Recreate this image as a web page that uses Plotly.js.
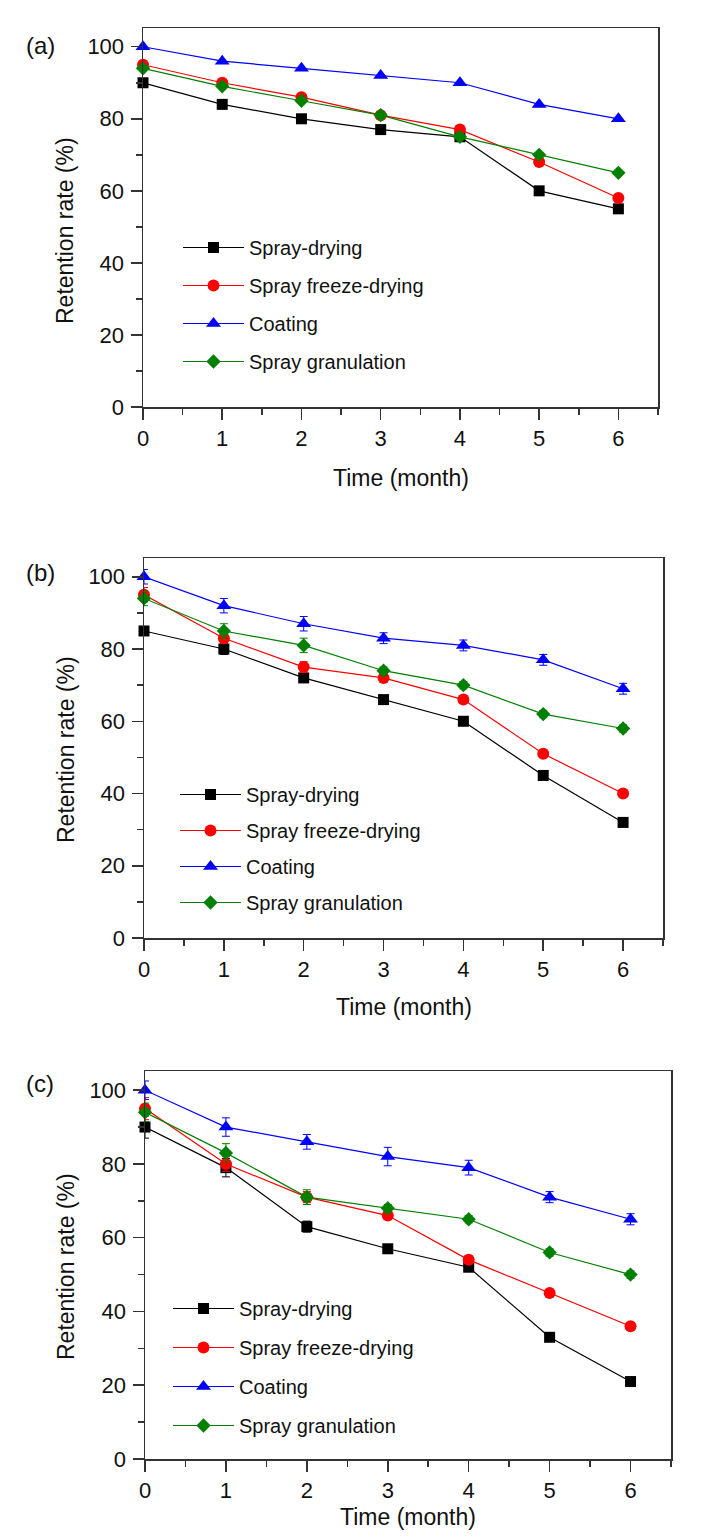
<!DOCTYPE html>
<html>
<head>
<meta charset="utf-8">
<script src="https://cdn.plot.ly/plotly-3.0.1.min.js"></script>
<style>html,body{margin:0;padding:0;background:#fff;}#chart{width:719px;height:1540px;}</style>
</head>
<body>
<div id="chart"></div>
<script>
// ---- data ----
const months = [0, 1, 2, 3, 4, 5, 6];
const seriesNames = ['Spray-drying', 'Spray freeze-drying', 'Coating', 'Spray granulation'];
const panelLabels = ['(a)', '(b)', '(c)'];
const xTitle = 'Time (month)';
const yTitle = 'Retention rate (%)';

// panel (a)
const aSprayDrying = [90, 84, 80, 77, 75, 60, 55];
const aSprayFreezeDrying = [95, 90, 86, 81, 77, 68, 58];
const aCoating = [100, 96, 94, 92, 90, 84, 80];
const aSprayGranulation = [94, 89, 85, 81, 75, 70, 65];

// panel (b)
const bSprayDrying = [85, 80, 72, 66, 60, 45, 32];
const bSprayFreezeDrying = [95, 83, 75, 72, 66, 51, 40];
const bCoating = [100, 92, 87, 83, 81, 77, 69];
const bSprayGranulation = [94, 85, 81, 74, 70, 62, 58];
const bErrSprayDrying = [1, 1.5, 1, 1, 1, 1, 1];
const bErrSprayFreezeDrying = [2, 1.5, 1.5, 1, 1, 1, 1];
const bErrCoating = [2, 2, 2, 1.5, 1.5, 1.5, 1.5];
const bErrSprayGranulation = [2, 2, 2, 1, 1, 1, 1];

// panel (c)
const cSprayDrying = [90, 79, 63, 57, 52, 33, 21];
const cSprayFreezeDrying = [95, 80, 71, 66, 54, 45, 36];
const cCoating = [100, 90, 86, 82, 79, 71, 65];
const cSprayGranulation = [94, 83, 71, 68, 65, 56, 50];
const cErrSprayDrying = [3, 2.5, 1.5, 1, 1, 1, 1];
const cErrSprayFreezeDrying = [3, 2, 1.5, 1, 1, 1, 1];
const cErrCoating = [2.5, 2.5, 2, 2.5, 2, 1.5, 1.5];
const cErrSprayGranulation = [2.5, 2.5, 2, 1, 1, 1, 1];

// ---- styling ----
const W = 719, H = 1540;
const FONT = 'Liberation Sans, Arial, sans-serif';
const styles = [
  {color: '#000000', symbol: 'square', size: 11},
  {color: '#ff0000', symbol: 'circle', size: 12},
  {color: '#0000ff', symbol: 'triangle-up', size: 13},
  {color: '#008000', symbol: 'diamond', size: 11}
];

const panels = [
  {vals: [aSprayDrying, aSprayFreezeDrying, aCoating, aSprayGranulation], errs: null,
   box: {l: 143, r: 658, t: 28, b: 407}, legend: {x: 178, y: 228, gap: 9}, label: {x: 40, y: 45},
   xt: 478, yt: {x: 65, y: 231}},
  {vals: [bSprayDrying, bSprayFreezeDrying, bCoating, bSprayGranulation],
   errs: [bErrSprayDrying, bErrSprayFreezeDrying, bErrCoating, bErrSprayGranulation],
   box: {l: 144, r: 663, t: 558, b: 938}, legend: {x: 175, y: 775, gap: 7}, label: {x: 40, y: 573},
   xt: 1007, yt: {x: 66, y: 750}},
  {vals: [cSprayDrying, cSprayFreezeDrying, cCoating, cSprayGranulation],
   errs: [cErrSprayDrying, cErrSprayFreezeDrying, cErrCoating, cErrSprayGranulation],
   box: {l: 145, r: 671, t: 1071, b: 1459}, legend: {x: 168, y: 1289, gap: 10}, label: {x: 40, y: 1083},
   xt: 1517, yt: {x: 66, y: 1267}}
];

const traces = [];
const layout = {
  width: W, height: H,
  margin: {l: 0, r: 0, t: 0, b: 0, autoexpand: false},
  paper_bgcolor: '#ffffff', plot_bgcolor: '#ffffff',
  font: {family: FONT, color: '#111111'},
  showlegend: true,
  annotations: []
};

panels.forEach((p, i) => {
  const n = i === 0 ? '' : String(i + 1);
  const xa = 'x' + n, ya = 'y' + n;
  const legName = i === 0 ? 'legend' : 'legend' + (i + 1);
  p.vals.forEach((v, k) => {
    const st = styles[k];
    const tr = {
      type: 'scatter', mode: 'lines+markers',
      x: months, y: v, name: seriesNames[k],
      xaxis: xa, yaxis: ya, legend: legName, legendgroup: 'p' + i + 's' + k,
      line: {color: st.color, width: 1.2},
      marker: {color: st.color, symbol: st.symbol, size: st.size, line: {width: 0}},
      cliponaxis: false
    };
    if (p.errs) {
      tr.error_y = {type: 'data', array: p.errs[k], visible: true, color: st.color, thickness: 1, width: 4};
    }
    traces.push(tr);
  });
  const axCommon = {
    showline: true, mirror: true, linecolor: '#333333', linewidth: 1.5,
    ticks: 'outside', ticklen: 11, tickwidth: 1.5, tickcolor: '#333333',
    showgrid: false, zeroline: false,
    tickfont: {family: FONT, size: 22, color: '#111111'}
  };
  layout['xaxis' + n] = Object.assign({}, axCommon, {
    domain: [p.box.l / W, p.box.r / W], anchor: ya,
    range: [0, 6.5], tickvals: months, ticktext: months.map(String),
    minor: {ticks: 'outside', ticklen: 6, tickwidth: 1.5, tickcolor: '#333333', dtick: 0.5, tick0: 0, showgrid: false},
    ticklabelstandoff: 0
  });
  layout['yaxis' + n] = Object.assign({}, axCommon, {
    domain: [1 - p.box.b / H, 1 - p.box.t / H], anchor: xa,
    range: [0, 105.2], dtick: 20, tick0: 0,
    minor: {ticks: 'outside', ticklen: 6, tickwidth: 1.5, tickcolor: '#333333', dtick: 10, tick0: 0, showgrid: false},
    ticklabelstandoff: 2
  });
  layout[legName] = {
    xref: 'container', yref: 'container',
    x: p.legend.x / W, y: 1 - p.legend.y / H, xanchor: 'left', yanchor: 'top',
    bgcolor: 'rgba(0,0,0,0)', borderwidth: 0,
    font: {family: FONT, size: 20, color: '#111111'},
    itemwidth: 61, traceorder: 'grouped', tracegroupgap: p.legend.gap,
    itemclick: false, itemdoubleclick: false
  };
  layout.annotations.push({
    text: panelLabels[i], xref: 'paper', yref: 'paper',
    x: p.label.x / W, y: 1 - p.label.y / H, xanchor: 'center', yanchor: 'middle',
    showarrow: false, font: {family: FONT, size: 24, color: '#111111'}
  });
  // x-axis title
  layout.annotations.push({
    text: xTitle, xref: 'x' + n + ' domain', yref: 'paper',
    x: 0.5, y: 1 - p.xt / H, xanchor: 'center', yanchor: 'middle',
    showarrow: false, font: {family: FONT, size: 23, color: '#111111'}
  });
  // y-axis title
  layout.annotations.push({
    text: yTitle, xref: 'paper', yref: 'paper', textangle: -90,
    x: p.yt.x / W, y: 1 - p.yt.y / H, xanchor: 'center', yanchor: 'middle',
    showarrow: false, font: {family: FONT, size: 23, color: '#111111'}
  });
});

Plotly.newPlot('chart', traces, layout, {staticPlot: true, displayModeBar: false});
</script>
</body>
</html>
